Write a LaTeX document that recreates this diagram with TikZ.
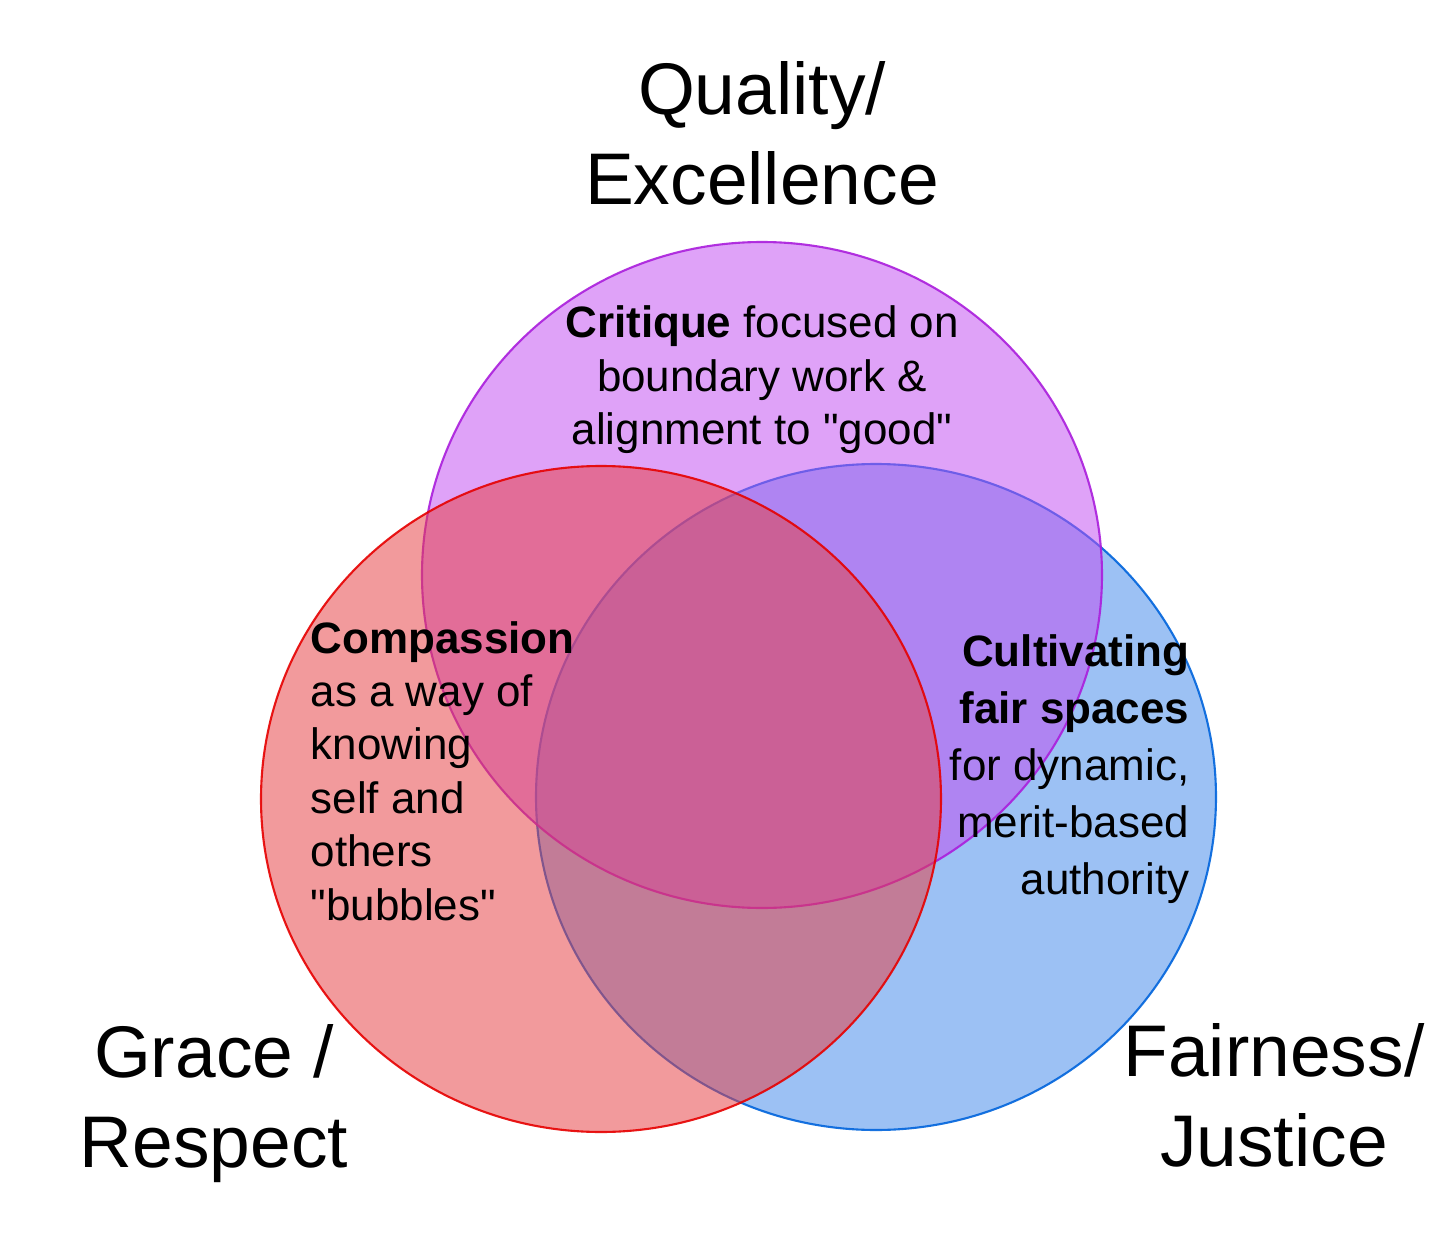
\documentclass[tikz,border=0pt]{standalone}
\usepackage{fontspec}
\setmainfont{Liberation Sans}[Ligatures=TeXOff]
\usetikzlibrary{positioning}

\definecolor{qualfill}{RGB}{193,77,241}
\definecolor{qualline}{RGB}{170,30,220}
\definecolor{gracefill}{RGB}{230,62,66}
\definecolor{graceline}{RGB}{230,0,0}
\definecolor{fairfill}{RGB}{65,137,233}
\definecolor{fairline}{RGB}{0,100,220}

\tikzset{
  venn/.style={fill opacity=0.52, draw opacity=0.9, line width=0.6pt},
  heading/.style={font=\fontsize{20.8}{25.6}\selectfont, align=center, inner sep=0pt},
  body/.style={font=\fontsize{12.5}{15.2}\selectfont, inner sep=0pt}
}

\begin{document}
\begin{tikzpicture}[x=0.01cm, y=-0.01cm, line join=round]
  \useasboundingbox (0,0) rectangle (1456,1248);
  \coordinate (Q) at (762,575);
  \coordinate (G) at (601,799);
  \coordinate (F) at (876,797);
  % the three sets
  \path[venn, fill=fairfill, draw=fairline] (F) ellipse [x radius=340, y radius=333];
  \path[venn, fill=qualfill, draw=qualline] (Q) ellipse [x radius=340, y radius=333];
  \path[venn, fill=gracefill, draw=graceline] (G) ellipse [x radius=340, y radius=333];
  % headings
  \node[heading] (qual) at (762,133) {Quality/\\Excellence};
  \node[heading] (grace) at (214,1104) {Grace /\\Respect};
  \node[heading] (fair) at (1274,1095) {Fairness/\\Justice};
  % texts inside the sets
  \node[body, align=center] (critique) at (762,380)
    {\textbf{Critique} focused on\\boundary work \&\\alignment to "good"};
  \node[body, align=left, anchor=west] (compassion) at (310,771)
    {\textbf{Compassion}\\as a way of\\knowing\\self and\\others\\"bubbles"};
  \node[body, align=right, anchor=east, font=\fontsize{12.5}{16.2}\selectfont] (cultivate) at (1190,769)
    {\textbf{Cultivating}\\\textbf{fair spaces}\\for dynamic,\\merit-based\\authority};
\end{tikzpicture}
\end{document}
